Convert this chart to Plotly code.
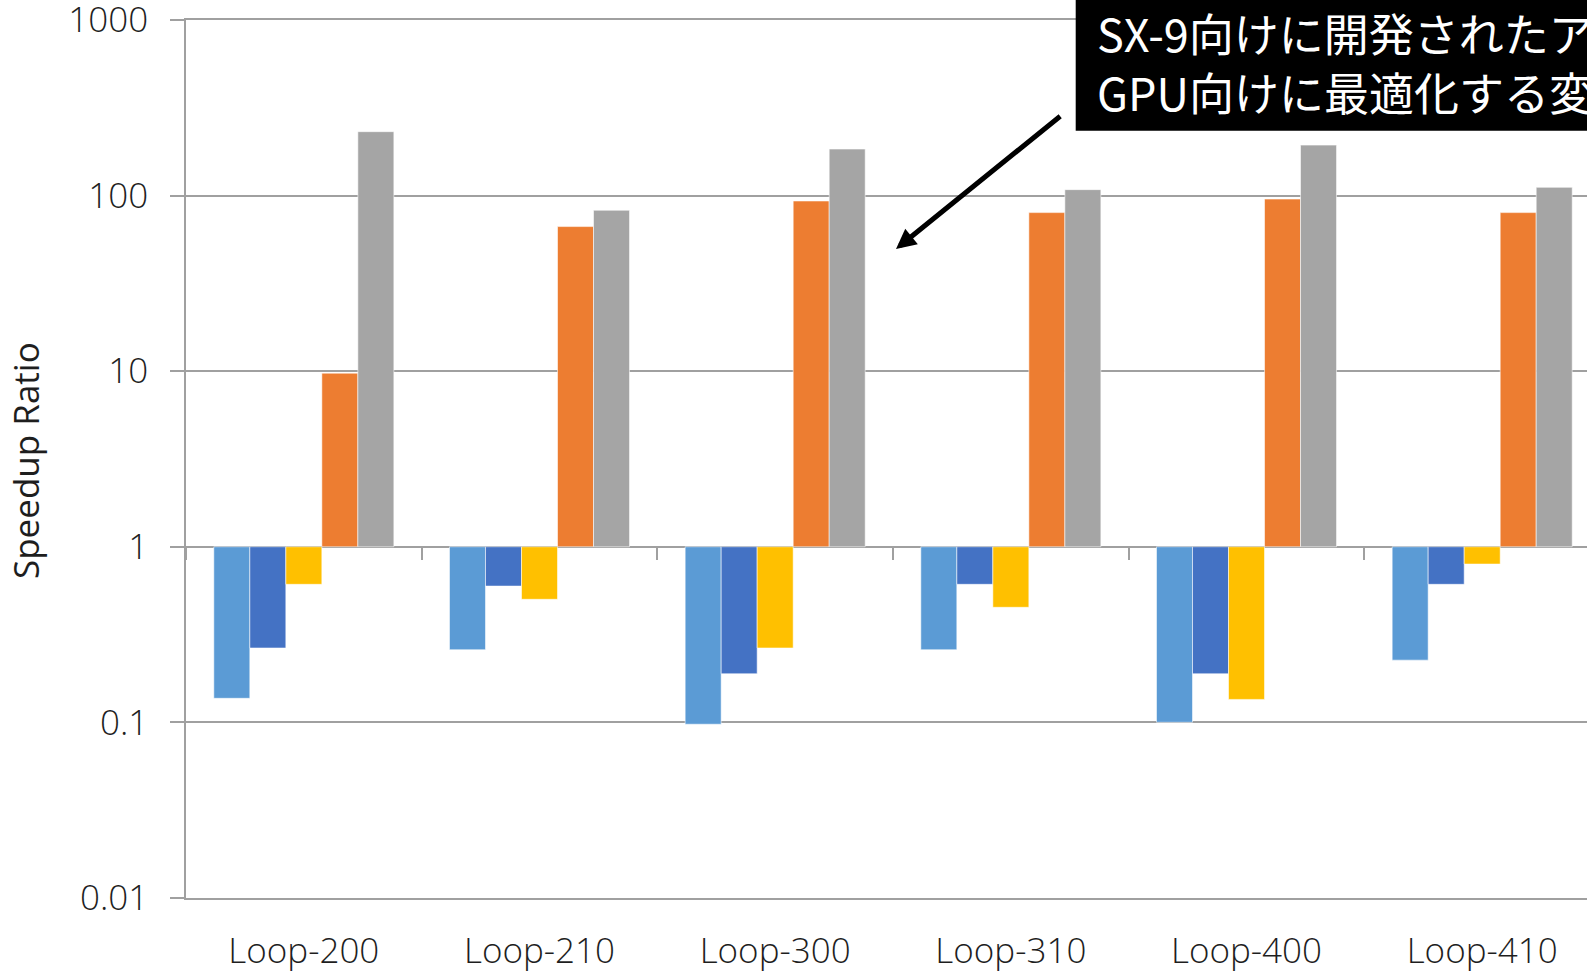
import plotly.graph_objects as go

# Loop kernels and their speedup ratios (log scale, bars grow from 1)
categories = ["Loop-200", "Loop-210", "Loop-300", "Loop-310", "Loop-400", "Loop-410"]
series_names = ["Series 1", "Series 2", "Series 3", "Series 4", "Series 5"]
series_1 = [0.137, 0.259, 0.0975, 0.259, 0.100, 0.226]
series_2 = [0.265, 0.597, 0.189, 0.611, 0.189, 0.611]
series_3 = [0.611, 0.502, 0.265, 0.452, 0.135, 0.797]
series_4 = [9.75, 66.7, 93.3, 80.1, 95.7, 80.1]
series_5 = [231.6, 82.6, 184.4, 108.3, 194.2, 111.6]
series_colors = ["#5B9BD5", "#4472C4", "#FFC000", "#ED7D31", "#A5A5A5"]

y_tickvals = [0.01, 0.1, 1, 10, 100, 1000]
y_ticktext = ["0.01", "0.1", "1", "10", "100", "1000"]

callout_lines = ["SX-9向けに開発されたア", "GPU向けに最適化する変"]
y_title = "Speedup Ratio"

W, H = 1587, 972
M_L, M_R, M_T, M_B = 186, 0, 20, 74
plot_w = W - M_L - M_R
plot_h = H - M_T - M_B
cat_px = 235.67  # width of one category slot


def px_x(x):
    return (x - M_L) / plot_w


def px_y(y):
    return (H - M_B - y) / plot_h


GRID = "#a0a0a0"
TEXT = "#1e1e1e"
TICK_FONT = dict(family="Open Sans, Noto Sans, sans-serif", size=35, color=TEXT, weight=300)

fig = go.Figure()
all_series = [series_1, series_2, series_3, series_4, series_5]
for name, vals, col in zip(series_names, all_series, series_colors):
    fig.add_trace(go.Bar(
        x=categories,
        y=[v - 1 for v in vals],
        base=1,
        name=name,
        marker=dict(color=col, line=dict(width=1, color="rgba(255,255,255,0.55)")),
        customdata=vals,
        hovertemplate="%{x}: %{customdata}<extra>" + name + "</extra>",
    ))

# helper trace that carries the category tick marks drawn on the y = 1 line
fig.add_trace(go.Scatter(x=categories, y=[None] * len(categories), xaxis="x2",
                         showlegend=False, hoverinfo="skip"))

x_end = len(categories) - 0.5 - (M_L + len(categories) * cat_px - W) / cat_px

fig.update_layout(
    width=W, height=H,
    margin=dict(l=M_L, r=M_R, t=M_T, b=M_B, autoexpand=False),
    paper_bgcolor="white", plot_bgcolor="white",
    barmode="group", bargap=0.236, bargroupgap=0,
    showlegend=False,
    xaxis=dict(
        type="category", range=[-0.5, x_end], automargin=False,
        showgrid=False, ticks="", showline=True, mirror=True,
        linecolor=GRID, linewidth=1.5,
        tickfont=TICK_FONT, ticklabelstandoff=21, ticklabeloverflow="allow",
    ),
    xaxis2=dict(
        type="category", overlaying="x", matches="x", automargin=False,
        anchor="free", position=0.4, side="bottom",
        ticks="outside", tickson="boundaries", ticklen=12, tickwidth=1.5,
        tickcolor=GRID, showticklabels=False, showgrid=False, showline=False,
    ),
    yaxis=dict(
        type="log", range=[-2.001, 3.001], automargin=False,
        tickvals=y_tickvals, ticktext=y_ticktext,
        showgrid=True, gridcolor=GRID, gridwidth=1.5,
        showline=True, linecolor=GRID, linewidth=1.5,
        ticks="outside", ticklen=14, tickwidth=1.5, tickcolor=GRID,
        tickfont=TICK_FONT, ticklabelstandoff=15, ticklabeloverflow="allow",
    ),
)

# axis title
fig.add_annotation(
    text=y_title, xref="paper", yref="paper",
    x=px_x(25), y=px_y(461), xanchor="center", yanchor="middle",
    textangle=-90, showarrow=False,
    font=dict(family="Open Sans, Noto Sans, sans-serif", size=35, color=TEXT),
)

# black callout box with its two-line text
fig.add_shape(
    type="rect", xref="paper", yref="paper",
    x0=px_x(1075.7), x1=px_x(W + 20), y0=px_y(130.7), y1=px_y(-10),
    fillcolor="black", line=dict(width=0), layer="above",
)
fig.add_annotation(
    text="<br>".join(callout_lines), xref="paper", yref="paper",
    x=px_x(1095), y=px_y(62), xanchor="left", yanchor="middle", align="left",
    showarrow=False,
    font=dict(family="Noto Sans CJK JP, sans-serif", size=45, color="white"),
)

# arrow pointing from the callout into the chart
fig.add_annotation(
    text="", xref="paper", yref="paper",
    x=px_x(896), y=px_y(249), ax=1061.7 - 896, ay=115 - 249,
    showarrow=True, arrowhead=2, arrowsize=0.8, arrowwidth=5, arrowcolor="black",
)

fig.write_html("out.html")
